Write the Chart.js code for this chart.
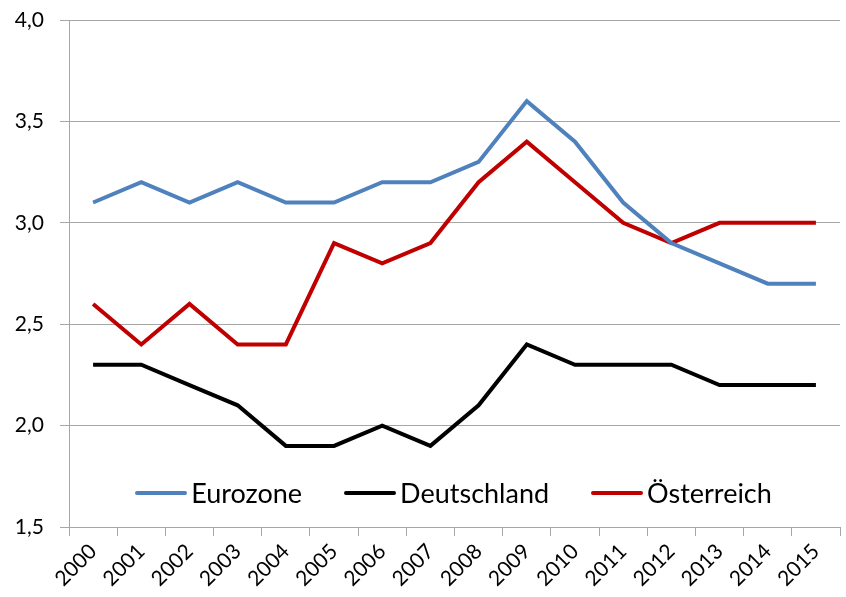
<!DOCTYPE html>
<html>
<head>
<meta charset="utf-8">
<script src="https://cdn.jsdelivr.net/npm/chart.js@4/dist/chart.umd.min.js"></script>
<style>
  html, body { margin: 0; padding: 0; background: #fff; }
  #wrap { position: relative; width: 846px; height: 597px; }
  #legend {
    position: absolute; left: 66px; width: 775px; top: 477px; line-height: 32px;
    display: flex; justify-content: center; gap: 42px;
    font-family: Lato, "Open Sans", sans-serif; font-size: 27px; color: #000;
  }
  .item { display: flex; align-items: center; gap: 4px; }
  .swatch { width: 52px; height: 4px; border-radius: 2px; }
</style>
</head>
<body>
<div id="wrap">
  <canvas id="chart" width="846" height="597"></canvas>
  <div id="legend"></div>
</div>
<script>
// ── Daten ───────────────────────────────────────────────
const years       = ['2000','2001','2002','2003','2004','2005','2006','2007',
                     '2008','2009','2010','2011','2012','2013','2014','2015'];
const eurozone    = [3.1, 3.2, 3.1, 3.2, 3.1, 3.1, 3.2, 3.2, 3.3, 3.6, 3.4, 3.1, 2.9, 2.8, 2.7, 2.7];
const deutschland = [2.3, 2.3, 2.2, 2.1, 1.9, 1.9, 2.0, 1.9, 2.1, 2.4, 2.3, 2.3, 2.3, 2.2, 2.2, 2.2];
const oesterreich = [2.6, 2.4, 2.6, 2.4, 2.4, 2.9, 2.8, 2.9, 3.2, 3.4, 3.2, 3.0, 2.9, 3.0, 3.0, 3.0];
const seriesNames = ['Eurozone', 'Deutschland', 'Österreich'];
const colors      = ['#4f81bd', '#000000', '#c00000'];

const FONT = 'Lato, "Open Sans", sans-serif';
const GRID = '#a6a6a6';

const datasets = [eurozone, deutschland, oesterreich].map((d, i) => ({
  label: seriesNames[i],
  data: d,
  borderColor: colors[i],
  backgroundColor: colors[i],
  borderWidth: 4,
  pointRadius: 0,
  tension: 0,
  fill: false,
}));

new Chart(document.getElementById('chart'), {
  type: 'line',
  data: { labels: years, datasets },
  options: {
    responsive: false,
    animation: false,
    layout: { padding: { top: 20, right: 6, left: 0, bottom: 0 } },
    plugins: { legend: { display: false }, tooltip: { enabled: false } },
    scales: {
      x: {
        offset: true,
        grid: { offset: true, drawOnChartArea: false, color: GRID, tickLength: 9 },
        border: { color: GRID },
        ticks: { color: '#000', font: { family: FONT, size: 21 }, minRotation: 45, maxRotation: 45, padding: 3 },
        afterFit: s => { s.height = 70; s.paddingLeft = 0; s.paddingRight = 0; },
      },
      y: {
        min: 1.5, max: 4.0,
        grid: { color: GRID, tickLength: 9 },
        border: { color: GRID },
        ticks: {
          stepSize: 0.5, color: '#000', padding: 16,
          font: { family: FONT, size: 21 },
          callback: v => v.toFixed(1).replace('.', ','),
        },
        afterFit: s => { s.width = 69; s.paddingTop = 0; s.paddingBottom = 0; },
      },
    },
  },
});

// Legende als HTML im Diagrammbereich
const legend = document.getElementById('legend');
legend.innerHTML = seriesNames.map((n, i) =>
  `<div class="item"><span class="swatch" style="background:${colors[i]}"></span><span>${n}</span></div>`
).join('');
</script>
</body>
</html>
